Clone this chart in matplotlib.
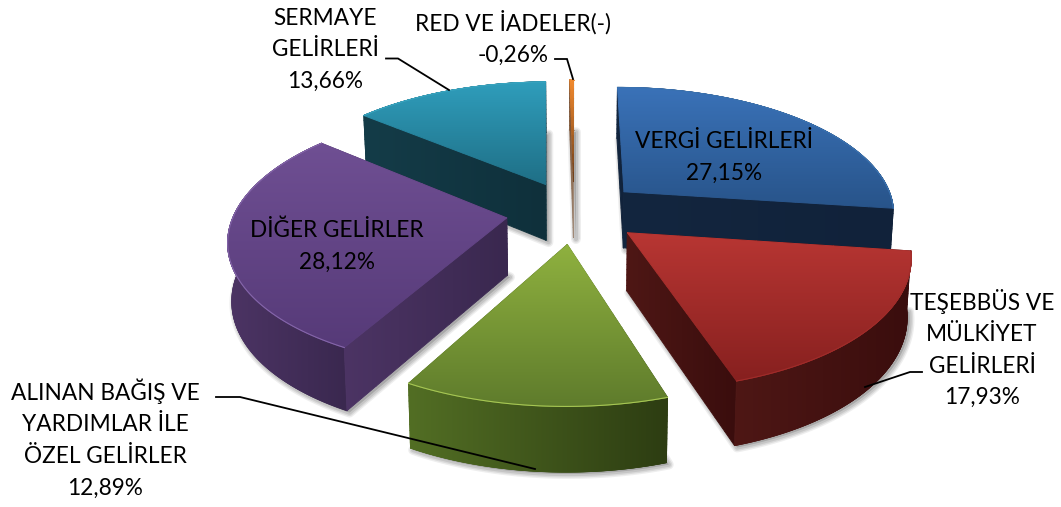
"""Exploded 3D pie of income shares, projected by hand since matplotlib has no 3D pie."""

import matplotlib

matplotlib.use("Agg")
import matplotlib.pyplot as plt
import numpy as np
from matplotlib.collections import LineCollection
from matplotlib.colors import to_rgb
from matplotlib.patches import Polygon

plt.rcParams["font.family"] = ["Lato", "DejaVu Sans"]

categories = [
    "VERGİ GELİRLERİ",
    "TEŞEBBÜS VE\nMÜLKİYET\nGELİRLERİ",
    "ALINAN BAĞIŞ VE\nYARDIMLAR İLE\nÖZEL GELİRLER",
    "DİĞER GELİRLER",
    "SERMAYE\nGELİRLERİ",
    "RED VE İADELER(-)",
]
values = [27.15, 17.93, 12.89, 28.12, 13.66, -0.26]

# top gradient (start, end), wall gradient (left, right), rim highlight
STYLES = [
    (("#3a72b8", "#28548a"), ("#13263f", "#11223a"), "#3a72b0"),
    (("#b83633", "#87201f"), ("#4e1715", "#3a0d0d"), "#a02c2a"),
    (("#8fb13f", "#5f7c2c"), ("#526e24", "#2d3d12"), "#a6c653"),
    (("#6f4f93", "#563a78"), ("#4c3464", "#3a284f"), "#8566aa"),
    (("#2f9dbb", "#1f6f86"), ("#143c48", "#0f303b"), "#3aa5c0"),
    (("#f28a2e", "#6b3d1a"), ("#7a5030", "#a08a78"), "#f28a2e"),
]
DRAW_ORDER = [4, 5, 0, 3, 1, 2]

# projection, in output pixels
CX, CY = 574, 212
RX, RY = 272, 126
PERSP = 6.55
EXPLODE = 0.25
HEIGHT = 57
HEIGHT_PERSP = 9.5
BOTTOM_SHRINK = 0.988


def project(X, Y, bottom=False):
    s = 1 / (1 + Y / PERSP)
    x = RX * X * s
    y = CY - RY * Y * s
    if bottom:
        x = x * BOTTOM_SHRINK
        y = y + HEIGHT / (1 + Y / HEIGHT_PERSP)
    return np.column_stack([CX + x, y])


def fill_gradient(ax, poly, c0, c1, vertical=True, zorder=2):
    xmin, ymin = poly.min(axis=0)
    xmax, ymax = poly.max(axis=0)
    rgb0, rgb1 = np.array(to_rgb(c0)), np.array(to_rgb(c1))
    t = np.linspace(0, 1, 128)[:, None]
    grad = (1 - t) * rgb0 + t * rgb1
    grad = grad[:, None, :] if vertical else grad[None, :, :]
    im = ax.imshow(grad, extent=(xmin, xmax, ymax, ymin), aspect="auto",
                   interpolation="bilinear", zorder=zorder)
    im.set_clip_path(Polygon(poly, closed=True, transform=ax.transData))

    # clip paths are not antialiased: stroke the edge in the local gradient colour
    closed = np.vstack([poly, poly[:1]])
    pts = [np.linspace(a, b, 12) for a, b in zip(closed[:-1], closed[1:])]
    pts = np.vstack(pts)
    segs = np.stack([pts[:-1], pts[1:]], axis=1)
    mids = segs.mean(axis=1)
    if vertical:
        f = (mids[:, 1] - ymin) / max(ymax - ymin, 1e-6)
    else:
        f = (mids[:, 0] - xmin) / max(xmax - xmin, 1e-6)
    colors = (1 - f)[:, None] * rgb0 + f[:, None] * rgb1
    ax.add_collection(LineCollection(segs, colors=colors, linewidths=0.7, zorder=zorder,
                                     capstyle="round"), autolim=False)


def draw_slice(ax, a0, a1, style, z):
    top_c, wall_c, rim_c = style
    mid = (a0 + a1) / 2
    ox, oy = EXPLODE * np.sin(mid), EXPLODE * np.cos(mid)
    th = np.linspace(a0, a1, 80)
    X = ox + np.sin(th)
    Y = oy + np.cos(th)
    apex_t = project(np.array([ox]), np.array([oy]))
    apex_b = project(np.array([ox]), np.array([oy]), bottom=True)
    arc_t = project(X, Y)
    arc_b = project(X, Y, bottom=True)

    # soft shadow of the footprint
    foot = np.vstack([apex_b, arc_b]) + np.array([2.5, 2.0])
    ax.add_patch(Polygon(foot, closed=True, fc="#8c8c8c", ec="none", alpha=0.5, zorder=z))
    for lw, alpha in [(7, 0.14), (5, 0.20), (3, 0.26)]:
        ax.add_patch(Polygon(foot, closed=True, fill=False, ec="#8c8c8c", lw=lw,
                             alpha=alpha, joinstyle="round", zorder=z))

    # walls, far ones first
    walls = [
        np.vstack([arc_t, arc_b[::-1]]),
        np.vstack([apex_t, arc_t[:1], arc_b[:1], apex_b]),
        np.vstack([apex_t, arc_t[-1:], arc_b[-1:], apex_b]),
    ]
    depth = [np.mean(Y), Y[0] / 2 + oy / 2, Y[-1] / 2 + oy / 2]
    for i in np.argsort(depth)[::-1]:
        fill_gradient(ax, walls[i], wall_c[0], wall_c[1], vertical=False, zorder=z + 0.1)

    # top face and the bright rim
    top = np.vstack([apex_t, arc_t])
    fill_gradient(ax, top, top_c[0], top_c[1], zorder=z + 0.2)
    ax.plot(arc_t[:, 0], arc_t[:, 1], color=rim_c, lw=0.8, zorder=z + 0.3)


fig = plt.figure(figsize=(10.61, 5.07), dpi=100)
ax = fig.add_axes([0, 0, 1, 1])

shares = np.abs(values)
edges = np.concatenate([[0], np.cumsum(shares)]) / shares.sum() * 2 * np.pi
for n, idx in enumerate(DRAW_ORDER):
    draw_slice(ax, edges[idx], edges[idx + 1], STYLES[idx], 2 + n)

ax.set_xlim(0, 1061)
ax.set_ylim(507, 0)
ax.axis("off")

# leader lines
LEADERS = [
    ([386, 398, 449], [58.5, 58.5, 90]),
    ([555, 567, 573], [59, 59, 79]),
    ([216, 240, 535], [397, 397, 469]),
    ([865, 910, 922], [387, 372, 372]),
]
for lx, ly in LEADERS:
    ax.plot(lx, ly, color="black", lw=1.3, zorder=20, solid_joinstyle="miter")

# label centres
LABEL_POS = [(724, 157.5), (982, 348.5), (105, 438.5), (337, 246.5), (325, 50), (513, 38)]
for name, v, (tx, ty) in zip(categories, values, LABEL_POS):
    txt = name + "\n" + f"{v:.2f}%".replace(".", ",")
    ax.text(tx, ty, txt, ha="center", va="center", fontsize=16.3, color="black",
            linespacing=1.62, zorder=21)

fig.savefig("out.png", dpi=100)
